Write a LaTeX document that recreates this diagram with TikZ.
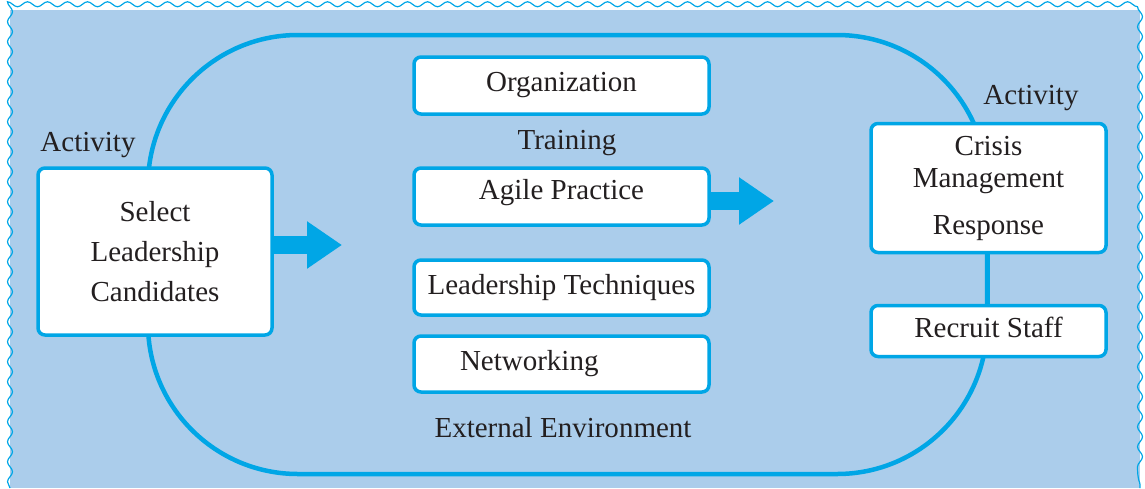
\documentclass[tikz,border=0pt]{standalone}
\usepackage{fontspec}
\setmainfont{Liberation Serif}
\usetikzlibrary{arrows.meta,positioning,decorations.pathmorphing}
\definecolor{skyfill}{HTML}{ABCDEB}
\definecolor{loopblue}{HTML}{00A6E6}
\definecolor{inkgray}{HTML}{231F20}
\tikzset{
  box/.style={draw=loopblue, fill=white, line width=3.5pt, rounded corners=7pt, inner sep=0pt, align=center},
  tag/.style={inner sep=0pt},
  fatarrow/.style={draw=loopblue, line width=18pt, -{Triangle[width=45pt,length=35pt]}}
}

\begin{document}
\begin{tikzpicture}[x=1pt, y=-1pt, text=inkgray, font=\fontsize{29pt}{40pt}\selectfont]
\useasboundingbox (0,0) rectangle (1145,488);
% backdrop with wavy edge
\fill[skyfill] (10,10) rectangle (1140,488);
\draw[loopblue, line width=1.2pt, decorate, decoration={snake, amplitude=2.5pt, segment length=20pt}]
  (10,488) -- (10,10) -- (1140,10) -- (1140,488);
% the loop
\draw[loopblue, line width=4.5pt, rounded corners=150pt] (148,35) rectangle (987,474);

% left activity
\node[tag] (actleft) at (88,145) {Activity};
\node[box, minimum width=234pt, minimum height=167pt] (select) at (155,251.5) {Select\\Leadership\\Candidates};

% middle column
\node[box, minimum width=295pt, minimum height=57pt] (org) at (561.5,85.5) {Organization};
\node[tag] (training) at (567,143) {Training};
\node[box, minimum width=295pt, minimum height=57pt, text depth=15pt] (agile) at (561.5,196.5) {Agile Practice};
\node[box, minimum width=295pt, minimum height=55pt] (techniques) at (561.5,287.5) {Leadership Techniques};
\node[box, minimum height=56pt, text width=203pt, align=left, inner xsep=46pt] (networking) at (561.5,364) {Networking};
\node[tag] (environment) at (563,428) {External Environment};

% right activity
\node[tag] (actright) at (1031,98) {Activity};
\node[box, minimum width=235pt, minimum height=129pt, font=\fontsize{29pt}{32pt}\selectfont] (crisis) at (988.5,188) {Crisis\\Management\\[15pt]Response};
\node[box, minimum width=235pt, minimum height=51pt, text depth=7pt, below=49.5pt of crisis] (recruit) {Recruit Staff};
\draw[loopblue, line width=3.5pt] (crisis) -- (recruit);

% flow arrows
\coordinate (tipA) at (342,245);
\coordinate (tipB) at (774,201);
\draw[fatarrow] (select.east |- tipA) -- (tipA);
\draw[fatarrow] (agile.east |- tipB) -- (tipB);
\end{tikzpicture}
\end{document}
